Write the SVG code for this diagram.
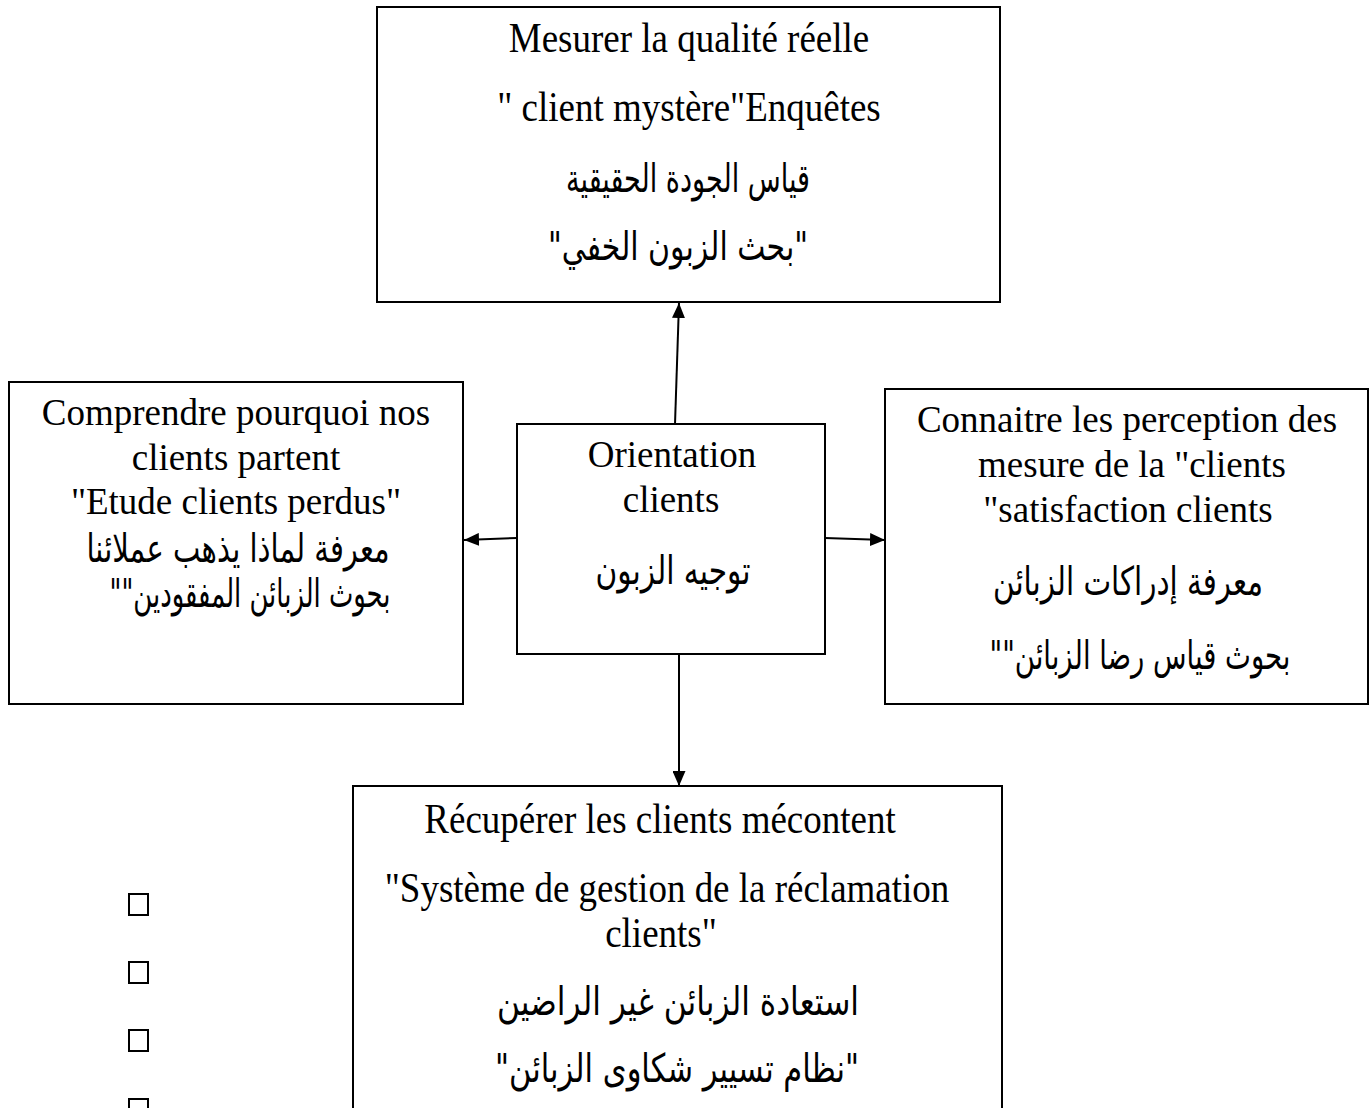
<svg xmlns="http://www.w3.org/2000/svg" width="1369" height="1108" viewBox="0 0 1369 1108">
  <defs>
    <marker id="arrow" viewBox="0 0 15 13" refX="15" refY="6.5" markerWidth="15" markerHeight="13" markerUnits="userSpaceOnUse" orient="auto">
      <path d="M0,0 L15,6.5 L0,13 Z" fill="#000"/>
    </marker>
    <style>
      .box { fill: #fff; stroke: #000; stroke-width: 2; }
      .lat { font-family: "Liberation Serif", "Times New Roman", serif; font-size: 37px; fill: #000; text-anchor: middle; }
      .ar { font-family: "DejaVu Sans", "Noto Sans", sans-serif; font-size: 33px; fill: #000; text-anchor: middle; direction: rtl; }
      .edge { stroke: #000; stroke-width: 2; fill: none; marker-end: url(#arrow); }
      .chk { fill: none; stroke: #000; stroke-width: 2; }
    </style>
  </defs>

  <rect width="1369" height="1108" fill="#fff"/>

  <!-- connectors from the central node -->
  <g id="connectors">
    <line class="edge" x1="675" y1="424" x2="679" y2="303"/>
    <line class="edge" x1="517" y1="538" x2="464" y2="540"/>
    <line class="edge" x1="825" y1="538" x2="885" y2="540"/>
    <line class="edge" x1="679" y1="654" x2="679" y2="786"/>
  </g>

  <!-- top: real quality measurement -->
  <g id="node-quality">
    <rect class="box" x="377" y="7" width="623" height="295"/>
    <text class="lat" transform="translate(689,52) scale(1,1.12)">Mesurer la qualité réelle</text>
    <text class="lat" transform="translate(689,121) scale(1,1.12)">" client mystère"Enquêtes</text>
    <text class="ar" transform="translate(688,192) scale(1,1.2)" textLength="244" lengthAdjust="spacingAndGlyphs">قياس الجودة الحقيقية</text>
    <text class="ar" transform="translate(678,260) scale(1,1.2)" textLength="260" lengthAdjust="spacingAndGlyphs">"بحث الزبون الخفي"</text>
  </g>

  <!-- left: lost customers study -->
  <g id="node-lost">
    <rect class="box" x="9" y="382" width="454" height="322"/>
    <text class="lat" x="236" y="425">Comprendre pourquoi nos</text>
    <text class="lat" x="236" y="470">clients partent</text>
    <text class="lat" x="236" y="514">"Etude clients perdus"</text>
    <text class="ar" transform="translate(238,562) scale(1,1.2)" textLength="303" lengthAdjust="spacingAndGlyphs">معرفة لماذا يذهب عملائنا</text>
    <text class="ar" transform="translate(250,607) scale(1,1.2)" textLength="281" lengthAdjust="spacingAndGlyphs">بحوث الزبائن المفقودين""</text>
  </g>

  <!-- centre: customer orientation -->
  <g id="node-orientation">
    <rect class="box" x="517" y="424" width="308" height="230"/>
    <text class="lat" x="672" y="467">Orientation</text>
    <text class="lat" x="671" y="512">clients</text>
    <text class="ar" transform="translate(673,584) scale(1,1.2)" textLength="155" lengthAdjust="spacingAndGlyphs">توجيه الزبون</text>
  </g>

  <!-- right: satisfaction measurement -->
  <g id="node-satisfaction">
    <rect class="box" x="885" y="389" width="483" height="315"/>
    <text class="lat" x="1127" y="432">Connaitre les perception des</text>
    <text class="lat" x="1132" y="477">mesure de la "clients</text>
    <text class="lat" x="1128" y="522">"satisfaction clients</text>
    <text class="ar" transform="translate(1128,595) scale(1,1.2)" textLength="270" lengthAdjust="spacingAndGlyphs">معرفة إدراكات الزبائن</text>
    <text class="ar" transform="translate(1140,669) scale(1,1.2)" textLength="301" lengthAdjust="spacingAndGlyphs">بحوث قياس رضا الزبائن""</text>
  </g>

  <!-- bottom: complaint management -->
  <g id="node-complaints">
    <rect class="box" x="353" y="786" width="649" height="340"/>
    <text class="lat" transform="translate(660,833) scale(1,1.12)">Récupérer les clients mécontent</text>
    <text class="lat" transform="translate(667,902) scale(1,1.12)">"Système de gestion de la réclamation</text>
    <text class="lat" transform="translate(661,947) scale(1,1.12)">clients"</text>
    <text class="ar" transform="translate(678,1015) scale(1,1.2)" textLength="362" lengthAdjust="spacingAndGlyphs">استعادة الزبائن غير الراضين</text>
    <text class="ar" transform="translate(677,1082) scale(1,1.2)" textLength="364" lengthAdjust="spacingAndGlyphs">"نظام تسيير شكاوى الزبائن"</text>
  </g>

  <!-- empty check boxes -->
  <g id="checkboxes">
    <rect class="chk" x="129" y="894" width="19" height="21"/>
    <rect class="chk" x="129" y="962" width="19" height="21"/>
    <rect class="chk" x="129" y="1030" width="19" height="21"/>
    <rect class="chk" x="129" y="1099" width="19" height="21"/>
  </g>
</svg>
